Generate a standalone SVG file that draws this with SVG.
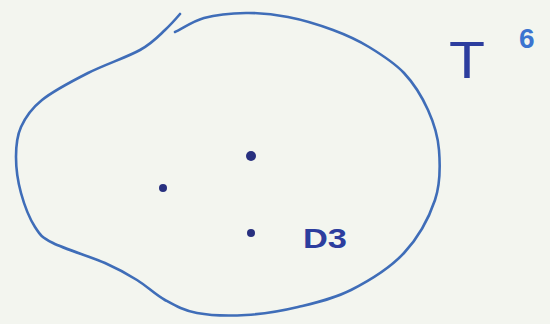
<svg xmlns="http://www.w3.org/2000/svg" width="550" height="324" viewBox="0 0 550 324">
<style>
.ink{fill:none;stroke:#3f6db8;stroke-width:2.6;stroke-linecap:round;stroke-linejoin:round}
.dot{fill:#28307f}
.lbl{font-family:"Liberation Sans",Arial,sans-serif;fill:#2c3d9e}
</style>
<rect width="550" height="324" fill="#f3f5ef"/>
<g id="region">
<path class="ink" d="M180,14 C177,17.5 171.2,24.2 165,30 C158.8,35.8 152.8,42.8 140,50 C127.2,57.2 104.3,64.7 88,73 C71.7,81.3 53.2,91 42,100 C30.8,109 25.3,117.5 21,127 C16.7,136.5 16,146 16,157 C16,168 17.8,181.3 21,193 C24.2,204.7 29.7,218.7 35,227 C40.3,235.3 41.3,237 53,243 C64.7,249 91,256.8 105,263 C119,269.2 127,273.8 137,280 C147,286.2 155,294.5 165,300 C175,305.5 183.5,310.5 197,313 C210.5,315.5 229.2,316 246,315 C262.8,314 280.5,311.2 298,307 C315.5,302.8 333.3,299 351,290 C368.7,281 390,268 404,253 C418,238 429.2,217.2 435,200 C440.8,182.8 440.2,165 439,150 C437.8,135 433.8,122.8 428,110 C422.2,97.2 413.8,83.5 404,73 C394.2,62.5 380.8,54.2 369,47 C357.2,39.8 346.5,35 333,30 C319.5,25 302.5,19.8 288,17 C273.5,14.2 260,12.8 246,13 C232,13.2 215.7,14.8 204,18 C192.3,21.2 180.7,29.7 175,32"/>
</g>
<g id="p1"><circle class="dot" cx="251" cy="156" r="5"/></g>
<g id="p2"><circle class="dot" cx="163" cy="188" r="4"/></g>
<g id="p3"><circle class="dot" cx="251" cy="233" r="4"/></g>
<g id="label-d3"><text class="lbl" x="303" y="248" font-size="27" font-weight="bold" textLength="44" lengthAdjust="spacingAndGlyphs">D3</text></g>
<g id="label-t6">
<text class="lbl" x="449" y="78" font-size="52" textLength="36" lengthAdjust="spacingAndGlyphs">T</text>
<text class="lbl" x="519" y="48" font-size="28" font-weight="bold" style="fill:#3b74d0">6</text>
</g>
</svg>
